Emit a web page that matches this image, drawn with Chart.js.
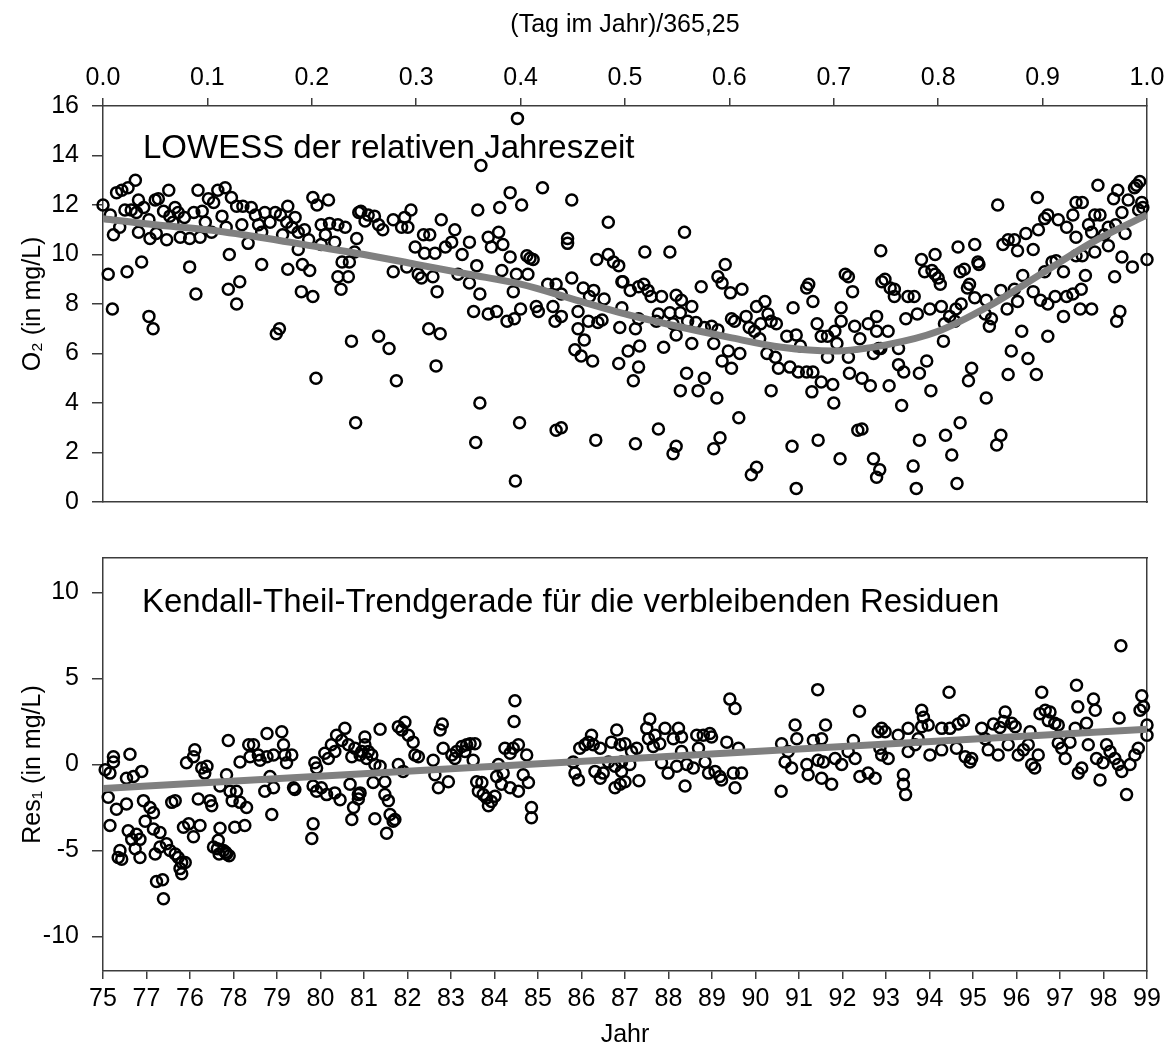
<!DOCTYPE html>
<html>
<head>
<meta charset="utf-8">
<script src="https://cdn.jsdelivr.net/npm/chart.js@4/dist/chart.umd.min.js"></script>
<style>
  html, body { margin: 0; padding: 0; background: #fff; }
  #wrap { position: relative; width: 1170px; height: 1057px; }
  canvas { position: absolute; left: 0; }
  #seasonChart { top: 0; }
  #trendChart { top: 530px; }
</style>
</head>
<body>
<div id="wrap">
  <canvas id="seasonChart" width="1170" height="530"></canvas>
  <canvas id="trendChart" width="1170" height="527"></canvas>
</div>
<script>
// ---- Seasonal panel: O2 against relative time of year ----
const dayFraction = [
  0.000,0.007,0.013,0.018,0.024,0.031,0.021,0.027,0.034,0.039,0.032,0.010,0.016,0.034,0.045,0.051,0.061,0.053,0.050,0.063,
  0.058,0.069,0.064,0.072,0.074,0.083,0.087,0.091,0.095,0.093,0.101,0.106,0.110,0.117,0.114,0.123,0.128,0.134,0.142,0.133,
  0.139,0.149,0.155,0.152,0.165,0.170,0.177,0.176,0.184,0.181,0.187,0.187,0.197,0.201,0.205,0.216,0.209,0.217,0.225,0.222,
  0.209,0.236,0.245,0.243,0.005,0.023,0.037,0.009,0.044,0.048,0.083,0.089,0.121,0.120,0.131,0.128,0.152,0.177,0.166,0.169,
  0.191,0.198,0.190,0.201,0.204,0.228,0.225,0.235,0.229,0.238,0.242,0.241,0.044,0.067,0.078,0.098,0.104,0.118,0.146,0.160,
  0.172,0.193,0.213,0.232,
  0.397,0.362,0.421,0.390,0.401,0.380,0.359,0.449,0.484,0.247,0.254,0.260,0.251,0.264,0.268,0.278,0.289,0.295,0.286,0.292,
  0.307,0.313,0.324,0.337,0.351,0.369,0.379,0.383,0.372,0.358,0.344,0.334,0.328,0.318,0.308,0.299,0.278,0.291,0.302,0.305,
  0.316,0.320,0.340,0.351,0.361,0.382,0.390,0.396,0.406,0.409,0.412,0.407,0.393,0.355,0.369,0.377,0.387,0.394,0.400,0.415,
  0.417,0.426,0.434,0.439,0.449,0.431,0.433,0.439,0.445,0.445,0.460,0.470,0.480,0.466,0.473,0.484,0.489,0.494,0.455,0.465,
  0.474,0.478,0.455,0.461,0.452,0.458,0.469,0.497,0.497,0.494,0.264,0.274,0.312,0.323,0.281,0.319,0.361,0.357,0.399,0.434,
  0.439,0.472,0.395,
  0.557,0.519,0.543,0.498,0.505,0.513,0.518,0.522,0.525,0.535,0.549,0.554,0.564,0.573,0.589,0.593,0.596,0.601,0.612,0.495,
  0.510,0.513,0.532,0.543,0.553,0.530,0.546,0.549,0.560,0.568,0.576,0.583,0.589,0.564,0.585,0.537,0.503,0.514,0.513,0.508,
  0.559,0.576,0.553,0.570,0.588,0.602,0.605,0.616,0.626,0.634,0.619,0.624,0.629,0.630,0.637,0.640,0.645,0.599,0.610,0.593,
  0.602,0.636,0.644,0.647,0.640,0.609,0.655,0.664,0.668,0.658,0.666,0.674,0.680,0.661,0.674,0.676,0.680,0.684,0.688,0.694,
  0.701,0.707,0.707,0.703,0.711,0.714,0.718,0.694,0.714,0.688,0.699,0.679,0.700,0.720,0.725,0.733,0.741,0.738,0.743,0.715,
  0.727,0.735,0.745,0.746,0.532,0.510,0.546,0.549,0.585,0.591,0.621,0.626,0.660,0.685,0.664,0.706,0.723,0.727,0.738,0.741,
  0.744,
  0.857,0.895,0.953,0.972,0.968,0.982,0.990,0.993,0.988,0.995,0.996,0.992,0.976,0.932,0.938,0.929,0.902,0.905,0.915,0.923,
  0.932,0.944,0.950,0.955,0.947,0.963,0.970,0.979,0.862,0.867,0.873,0.884,0.896,0.876,0.891,0.819,0.835,0.784,0.797,0.787,
  0.794,0.797,0.800,0.802,0.821,0.825,0.838,0.839,0.830,0.828,0.835,0.749,0.754,0.758,0.758,0.771,0.777,0.741,0.752,0.769,
  0.780,0.792,0.803,0.811,0.817,0.822,0.806,0.816,0.805,0.846,0.845,0.851,0.849,0.860,0.866,0.873,0.881,0.876,0.891,0.898,
  0.905,0.909,0.913,0.902,0.920,0.941,0.912,0.923,0.929,0.937,0.920,0.936,0.947,0.932,0.938,0.950,0.963,0.959,0.976,0.986,
  0.969,1.000,0.974,0.971,0.880,0.905,0.870,0.886,0.894,0.867,0.745,0.762,0.762,0.767,0.782,0.789,0.753,0.793,0.765,0.832,
  0.829,0.846,0.821,0.807,0.782,0.813,0.860,0.856,0.776,0.779,0.818
];
const o2 = [
  12.0,11.6,12.5,12.6,12.7,13.0,11.8,11.8,12.2,11.9,11.7,10.8,11.1,10.9,10.65,10.85,10.6,12.25,12.2,12.6,
  11.75,11.9,11.55,11.7,10.7,10.65,11.7,12.6,11.75,10.7,12.25,12.1,12.6,12.7,11.55,12.3,11.95,11.95,11.9,11.2,
  10.45,11.2,11.7,10.9,11.7,11.6,11.95,11.3,11.5,11.1,10.9,10.2,10.6,12.3,12.0,12.2,11.2,11.25,11.2,10.5,
  10.4,9.7,11.7,10.65,9.2,9.3,9.7,7.8,7.5,7.0,9.5,8.4,10.0,8.6,8.9,8.0,9.6,9.4,6.8,7.0,
  9.6,9.35,8.5,8.3,5.0,8.6,9.1,9.1,9.7,6.5,3.2,10.1,11.4,11.3,11.5,11.3,10.9,11.1,11.6,11.3,
  10.8,11.0,10.8,11.1,
  15.5,13.6,12.7,12.5,12.0,11.9,11.8,12.2,11.3,11.75,11.6,11.55,11.35,11.2,11.0,11.4,11.5,11.8,11.1,11.1,
  10.8,10.8,11.4,11.0,10.5,10.7,10.9,10.4,10.3,9.55,10.0,10.5,10.3,10.05,10.05,10.3,9.3,9.5,9.2,9.05,
  9.1,8.5,9.2,8.85,8.4,9.35,9.9,9.2,9.95,9.85,9.8,9.2,8.5,7.7,7.6,7.7,7.3,7.4,7.8,7.9,
  7.7,8.8,8.8,8.4,9.05,7.9,7.3,7.5,10.45,10.65,8.65,8.55,8.2,8.3,9.8,10.0,9.7,9.55,7.7,7.3,
  7.25,7.35,7.0,6.55,6.15,5.9,5.7,8.9,7.85,5.6,6.7,6.2,7.0,6.8,4.9,5.5,4.0,2.4,3.2,2.9,
  3.0,2.5,0.85,
  10.9,10.1,10.1,8.9,8.55,8.7,8.8,8.55,8.3,8.3,8.35,8.15,7.9,8.7,9.1,8.85,9.6,8.45,8.6,7.05,
  7.0,7.4,7.6,7.65,7.65,7.3,7.2,6.75,7.3,7.25,7.05,7.1,6.95,6.4,6.4,6.25,6.1,6.3,5.45,4.9,
  5.2,5.0,4.5,4.5,4.2,7.4,7.3,7.5,7.9,8.1,7.05,6.9,6.6,7.2,7.6,7.3,7.2,6.1,6.0,5.7,
  5.4,6.0,5.85,5.4,4.5,3.4,6.7,6.75,6.3,5.45,5.25,5.25,5.25,7.85,8.65,8.8,8.1,7.2,6.7,6.7,
  6.9,7.3,7.85,6.4,9.2,9.1,8.5,5.85,5.85,4.85,4.75,4.45,4.0,7.1,6.6,7.2,7.5,6.0,6.2,5.2,
  5.0,4.7,10.15,8.9,2.95,2.35,1.95,2.25,2.15,2.6,1.1,1.4,2.25,2.5,0.55,1.75,2.9,2.95,1.75,1.0,
  1.3,
  12.0,12.3,12.8,12.6,12.25,12.2,12.8,12.95,12.7,12.1,11.9,11.8,11.7,12.1,12.1,11.6,11.45,11.6,11.4,11.1,
  10.7,11.2,11.6,11.6,10.9,11.1,11.2,10.85,10.4,10.6,10.6,10.85,11.0,10.15,10.2,10.3,10.4,9.8,10.0,9.3,
  9.35,9.2,9.05,8.8,9.3,9.4,9.7,9.6,8.8,8.65,8.25,9.0,8.65,8.6,8.3,8.3,8.3,6.9,6.9,7.4,
  7.6,7.8,7.9,7.5,7.8,8.0,7.2,7.3,6.5,8.15,7.6,7.4,7.1,8.55,7.8,8.6,9.15,8.1,8.5,8.15,
  8.0,9.7,9.75,9.3,9.3,9.15,8.3,8.3,8.4,8.6,7.5,7.8,7.8,9.95,9.95,10.1,10.35,10.8,9.9,9.5,
  9.1,9.8,7.7,7.3,6.9,6.7,6.1,5.8,5.15,5.15,6.2,6.2,5.55,5.25,5.2,5.7,4.7,4.5,3.9,5.4,
  4.9,4.2,3.2,2.7,2.5,1.9,2.7,2.3,1.45,0.55,0.75
];
// LOWESS smooth of the seasonal pattern
const lowessX = [0, 0.05, 0.1, 0.15, 0.2, 0.25, 0.3, 0.35, 0.4, 0.45, 0.5, 0.55, 0.6, 0.65, 0.7, 0.75, 0.8, 0.85, 0.9, 0.95, 1.0];
const lowessY = [11.45, 11.2, 11.0, 10.7, 10.35, 10.0, 9.6, 9.2, 8.8, 8.2, 7.6, 7.1, 6.65, 6.25, 6.1, 6.35, 6.9, 7.95, 9.25, 10.55, 11.6];
const fractionTicks = [0, 0.1, 0.2, 0.3, 0.4, 0.5, 0.6, 0.7, 0.8, 0.9, 1.0];
const fractionTickLabels = ['0.0','0.1','0.2','0.3','0.4','0.5','0.6','0.7','0.8','0.9','1.0'];
const o2Ticks = [0, 2, 4, 6, 8, 10, 12, 14, 16];

// ---- Trend panel: residuals against year ----
const year = [
  75.05,75.24,75.24,75.16,75.62,75.54,75.70,75.89,75.12,75.31,75.54,75.16,75.93,76.08,76.16,75.97,75.58,75.77,75.85,75.66,
  76.16,76.31,75.39,75.35,75.43,75.74,75.85,76.20,76.31,76.46,76.54,76.66,76.73,76.81,76.89,76.77,76.81,76.23,76.37,76.39,
  76.58,76.66,76.92,77.08,77.11,77.27,77.39,77.34,77.19,77.46,77.50,76.85,76.97,77.08,77.23,77.54,77.65,77.77,77.84,77.69,
  77.63,77.67,77.82,77.90,77.88,77.84,77.69,77.92,78.07,77.97,78.15,78.30,78.03,78.26,78.15,78.35,78.46,78.57,78.38,78.61,
  78.77,78.77,78.92,78.84,78.92,78.72,78.88,79.11,79.15,79.18,79.22,79.34,79.38,79.41,79.83,79.80,79.87,79.91,80.10,80.18,
  80.33,80.25,80.37,80.56,80.49,80.64,80.72,80.79,80.95,79.83,79.91,80.02,80.14,80.33,80.45,80.68,80.87,80.76,80.72,81.02,
  80.91,81.02,81.10,81.06,81.18,81.37,81.25,81.37,80.91,80.87,81.21,81.48,81.48,81.56,81.25,81.60,81.67,81.71,81.52,81.79,
  81.94,81.87,82.02,82.13,82.17,82.25,81.79,81.90,82.59,82.82,82.75,82.80,82.71,82.94,82.63,83.02,83.13,83.25,83.36,83.44,
  83.55,83.32,83.09,83.51,83.59,83.71,83.63,83.74,83.82,83.93,83.86,84.01,84.09,84.20,84.05,84.16,84.36,84.55,84.24,84.36,
  84.43,84.55,84.74,84.47,84.45,84.66,84.78,84.85,84.85,85.81,85.96,86.08,86.16,86.23,86.27,86.43,85.85,85.93,86.31,86.43,
  86.50,86.69,86.81,86.89,86.77,86.89,86.62,86.77,86.92,
  87.00,87.15,87.27,87.11,86.92,87.00,87.32,87.57,87.50,87.54,87.69,87.65,87.80,87.92,88.11,88.23,88.30,87.84,87.99,88.19,
  88.38,88.30,88.42,88.57,88.69,88.65,88.80,88.95,88.99,88.84,88.92,89.07,89.18,89.22,89.34,89.41,89.53,89.49,89.61,89.68,
  89.53,90.60,90.75,90.91,90.95,90.68,90.83,90.59,91.18,91.21,91.33,91.44,91.43,91.52,91.61,91.52,91.75,91.56,91.83,91.98,
  92.13,92.25,92.29,92.39,92.40,92.59,92.75,92.82,92.90,92.86,
  98.40,94.45,93.82,93.86,92.98,93.28,93.51,93.82,93.97,92.90,93.05,93.40,93.40,93.45,93.51,93.67,93.74,94.01,94.28,94.28,
  94.47,94.66,94.78,94.62,94.82,94.93,94.97,95.20,95.28,95.47,95.62,95.74,95.70,95.89,95.97,95.35,95.58,95.81,96.04,96.16,
  96.27,96.31,96.35,96.42,96.50,96.58,96.54,96.66,96.77,96.73,96.88,96.96,96.96,97.04,97.12,97.23,97.35,97.38,97.41,97.42,
  97.50,97.61,97.65,97.77,97.81,97.84,97.92,97.99,98.07,98.15,98.26,98.34,98.36,98.42,98.53,98.61,98.72,98.80,98.88,98.92,
  98.84,99.00,99.00
];
const residual = [
  -0.3,0.45,0.15,-0.5,0.6,-0.8,-0.7,-0.4,-1.9,-2.6,-2.3,-3.55,-2.1,-2.5,-2.8,-3.3,-3.85,-4.05,-4.35,-4.35,
  -3.75,-3.95,-5.0,-5.4,-5.5,-4.9,-5.4,-5.2,-4.8,-4.6,-5.0,-5.2,-5.4,-5.7,-5.7,-6.05,-6.35,-6.8,-6.7,-7.8,
  -2.2,-2.1,0.1,0.45,0.85,-0.2,-0.1,-0.5,-2.0,-2.1,-2.4,-3.65,-3.45,-4.2,-3.55,-4.8,-4.4,-5.0,-5.2,-3.7,
  -4.9,-5.2,-5.1,-5.3,1.4,-0.6,-1.25,-1.55,-1.55,-2.1,-2.2,-2.5,-3.65,-3.55,0.15,1.15,1.15,0.55,0.45,0.25,
  1.8,0.45,0.55,-0.7,-1.35,-1.55,-2.9,1.9,1.15,0.55,0.1,0.55,-1.35,-1.45,-3.45,-4.3,0.1,-0.2,0.65,0.35,
  0.75,1.15,1.7,2.1,1.4,1.15,0.45,0.95,0.75,-1.25,-1.55,-1.35,-1.75,-1.65,-2.05,-1.15,-1.75,-2.5,-3.2,1.6,
  0.55,1.15,0.75,0.35,0.55,2.05,0.0,-0.1,-1.65,-2.0,-1.05,-1.0,-1.75,-2.1,-3.15,-2.9,-3.3,-3.2,-4.0,2.2,
  2.45,2.0,1.7,1.3,0.55,0.45,0.0,-0.4,0.25,0.95,2.0,2.35,-1.35,-1.0,-0.6,0.55,0.75,1.05,1.15,1.2,
  1.2,0.75,0.35,0.25,-1.0,-1.05,-1.55,-1.75,-1.95,-2.15,-2.4,-1.85,0.0,-0.5,-0.7,-1.15,-1.35,-1.55,0.95,0.65,
  0.95,1.15,0.55,3.7,2.5,-0.6,-1.05,-2.5,-3.1,0.15,0.95,1.15,1.3,1.7,1.15,0.95,-0.5,-0.9,-0.4,-0.8,
  -0.5,1.3,2.0,1.15,-1.35,-1.15,0.15,-0.1,0.15,
  1.2,0.75,0.95,0.0,-0.4,-1.0,-0.95,2.65,2.1,1.5,1.7,1.05,1.2,2.1,1.5,2.1,1.6,0.1,-0.5,-0.1,
  -1.25,0.75,0.0,-0.2,0.95,1.7,1.7,1.8,1.6,0.15,-0.5,-0.4,-0.7,-0.9,1.3,3.8,3.25,-0.5,0.95,-0.5,
  -1.35,1.2,0.75,2.3,1.5,0.15,-0.2,-1.55,0.0,-0.6,1.4,0.25,4.35,1.5,2.3,-0.8,-1.15,0.15,0.35,0.0,
  0.75,1.4,0.35,3.1,-0.7,-0.5,-0.8,1.9,2.1,0.95,
  6.9,4.2,3.15,2.75,1.9,1.7,2.1,2.2,2.3,0.55,0.35,-0.6,-1.15,-1.75,0.75,1.15,1.5,0.55,0.85,2.1,
  2.1,2.35,2.55,0.95,0.45,0.15,0.35,2.1,1.5,2.35,2.15,3.05,2.5,2.4,2.2,0.85,0.55,1.15,0.55,0.85,
  1.15,1.9,0.0,-0.2,0.55,4.2,2.95,3.15,3.05,2.55,2.4,2.3,1.25,0.95,0.35,1.3,2.1,4.6,3.35,-0.5,
  -0.2,2.4,1.15,3.8,3.15,0.35,-0.9,0.1,1.15,0.75,0.35,0.0,2.7,-0.4,-1.75,0.0,0.55,0.95,4.0,3.35,
  3.15,2.3,1.7
];
// Kendall-Theil trend line end points
const trendX = [75, 99];
const trendY = [-1.4, 2.05];
const yearTicks = [75,76,77,78,79,80,81,82,83,84,85,86,87,88,89,90,91,92,93,94,95,96,97,98,99];
const yearTickLabels = ['75','77','76','78','79','80','81','82','83','84','85','86','87','88','89','90','91','92','93','94','95','96','97','98','99'];
const residualTicks = [-10, -5, 0, 5, 10];

// ---- shared styling ----
const FONT = "'Liberation Sans', Arial, Helvetica, sans-serif";
Chart.defaults.font.family = FONT;
Chart.defaults.color = '#000';
const AXIS = '#3c3c3c';
const TICK_FONT = { size: 25 };
const TITLE_FONT = { size: 25 };

const toPoints = (xs, ys) => xs.map((x, i) => ({ x, y: ys[i] }));

const circleSet = (pts) => ({
  data: pts,
  showLine: false,
  pointStyle: 'circle',
  pointRadius: 5.5,
  pointHoverRadius: 5.5,
  pointBorderWidth: 2.5,
  borderColor: '#000',
  backgroundColor: 'rgba(0,0,0,0)',
  clip: false,
  order: 1
});
const smoothSet = (pts, tension) => ({
  data: pts,
  showLine: true,
  pointRadius: 0,
  pointHoverRadius: 0,
  borderColor: '#808080',
  borderWidth: 7,
  tension: tension,
  cubicInterpolationMode: 'monotone',
  fill: false,
  order: 0
});

// plain frame side without ticks or labels
const frameSide = (position, min, max, size) => ({
  type: 'linear', position, min, max,
  ticks: { display: false },
  grid: { display: false, drawTicks: false },
  border: { display: true, color: AXIS, width: 1.5 },
  afterFit: (s) => { if (s.isHorizontal()) s.height = size; else s.width = size; }
});

const tickedAxis = (position, min, max, values, labels, opts) => ({
  type: 'linear', position, min, max,
  afterBuildTicks: (s) => { s.ticks = values.map(v => ({ value: v })); },
  ticks: {
    autoSkip: false, maxRotation: 0, minRotation: 0,
    font: TICK_FONT, color: '#000', padding: opts.padding,
    callback: (v, i) => labels ? labels[i] : String(v)
  },
  grid: { display: true, drawOnChartArea: false, drawTicks: true, tickLength: opts.tickLength, color: AXIS, lineWidth: 1.5 },
  border: { display: true, color: AXIS, width: 1.5 },
  title: { display: true, text: opts.title, font: TITLE_FONT, color: '#000', padding: opts.titlePadding },
  afterFit: (s) => { if (s.isHorizontal()) s.height = opts.size; else s.width = opts.size; }
});

// panel caption drawn inside the plot area
const captionPlugin = {
  id: 'panelCaption',
  afterDatasetsDraw(chart, args, o) {
    const ctx = chart.ctx;
    ctx.save();
    ctx.font = '33px ' + FONT;
    ctx.fillStyle = '#000';
    ctx.textAlign = 'left';
    ctx.textBaseline = 'alphabetic';
    ctx.fillText(o.text, o.x, o.y);
    ctx.restore();
  }
};

const baseOptions = {
  responsive: false,
  animation: false,
  events: [],
  layout: { padding: 0 },
  plugins: { legend: { display: false }, tooltip: { enabled: false } }
};

new Chart(document.getElementById('seasonChart'), {
  type: 'scatter',
  data: {
    datasets: [
      Object.assign(smoothSet(toPoints(lowessX, lowessY), 0.4), { xAxisID: 'x', yAxisID: 'y' }),
      Object.assign(circleSet(toPoints(dayFraction, o2)), { xAxisID: 'x', yAxisID: 'y' })
    ]
  },
  options: Object.assign({}, baseOptions, {
    plugins: Object.assign({}, baseOptions.plugins, {
      panelCaption: { text: 'LOWESS der relativen Jahreszeit', x: 143, y: 158 }
    }),
    scales: {
      x: tickedAxis('top', 0, 1, fractionTicks, fractionTickLabels,
        { padding: 5, tickLength: 8, title: '(Tag im Jahr)/365,25', titlePadding: { top: 10, bottom: 0 }, size: 106 }),
      xFrame: frameSide('bottom', 0, 1, 8),
      y: tickedAxis('left', 0, 16, o2Ticks, null,
        { padding: 13, tickLength: 11, title: 'O\u2082 (in mg/L)', titlePadding: { top: 18, bottom: 0 }, size: 103 }),
      yFrame: frameSide('right', 0, 16, 23)
    }
  }),
  plugins: [captionPlugin]
});

new Chart(document.getElementById('trendChart'), {
  type: 'scatter',
  data: {
    datasets: [
      Object.assign(smoothSet(toPoints(trendX, trendY), 0), { xAxisID: 'x', yAxisID: 'y' }),
      Object.assign(circleSet(toPoints(year, residual)), { xAxisID: 'x', yAxisID: 'y' })
    ]
  },
  options: Object.assign({}, baseOptions, {
    plugins: Object.assign({}, baseOptions.plugins, {
      panelCaption: { text: 'Kendall-Theil-Trendgerade f\u00fcr die verbleibenden Residuen', x: 142, y: 82 }
    }),
    scales: {
      x: tickedAxis('bottom', 75, 99, yearTicks, yearTickLabels,
        { padding: 5, tickLength: 8, title: 'Jahr', titlePadding: { top: 0, bottom: 7 }, size: 86 }),
      xFrame: frameSide('top', 75, 99, 23),
      y: tickedAxis('left', -12, 12, residualTicks, null,
        { padding: 13, tickLength: 11, title: 'Res\u2081 (in mg/L)', titlePadding: { top: 18, bottom: 0 }, size: 103 }),
      yFrame: frameSide('right', -12, 12, 23)
    }
  }),
  plugins: [captionPlugin]
});
</script>
</body>
</html>
